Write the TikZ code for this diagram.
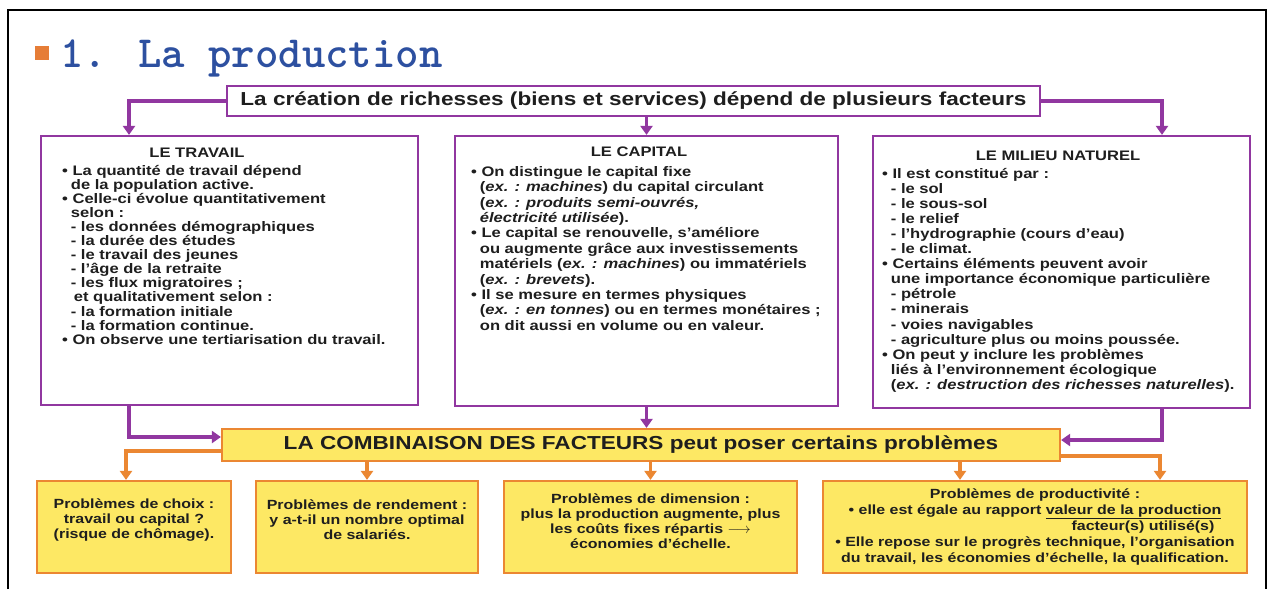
\documentclass[tikz,border=0pt]{standalone}
\usepackage{fontspec}
\setsansfont{Liberation Sans}[FakeStretch=1.2]
\usetikzlibrary{arrows.meta}

\definecolor{violetline}{RGB}{145,55,160}
\definecolor{orangeline}{RGB}{235,135,50}
\definecolor{yellowfill}{RGB}{253,232,100}
\definecolor{titleblue}{RGB}{45,80,160}
\definecolor{squareorange}{RGB}{230,125,55}
\definecolor{inkcol}{RGB}{30,30,30}

\newcommand{\indt}{\hspace*{0.63em}}

\begin{document}
\begin{tikzpicture}[x=1pt, y=-1pt,
  pbox/.style={draw=violetline, line width=2.2pt, fill=white, inner sep=0pt},
  ybox/.style={draw=orangeline, line width=2.2pt, fill=yellowfill, inner sep=0pt},
  head/.style={font=\sffamily\bfseries\fontsize{13.8}{14.1}\selectfont, text=inkcol, inner sep=0pt},
  body/.style={font=\sffamily\bfseries\fontsize{13.8}{14.1}\selectfont, text=inkcol, align=left, inner sep=0pt},
  big/.style={font=\sffamily\bfseries\fontsize{18.8}{22}\selectfont, text=inkcol},
  small/.style={font=\sffamily\bfseries\fontsize{13.3}{15}\selectfont, text=inkcol, align=center, inner sep=0pt},
  parrow/.style={draw=violetline, line width=3.4pt, -{Triangle[width=12pt,length=9pt]}},
  oarrow/.style={draw=orangeline, line width=3.4pt, -{Triangle[width=12pt,length=9pt]}}]

\useasboundingbox (0,0) rectangle (1268,589);
\draw[black, line width=2.5pt] (8,589) -- (8,10) -- (1266,10) -- (1266,589);

\fill[squareorange] (35,46) rectangle (49,60);
\node[anchor=base west, inner sep=0pt, text=titleblue, font=\ttfamily\bfseries\fontsize{44.6}{44.6}\selectfont] (titre) at (60,67) {1. La production};

\node[pbox, big, minimum width=813pt, minimum height=30pt] (crea) at (633.5,101) {La création de richesses (biens et services) dépend de plusieurs facteurs};

\node[pbox, minimum width=377pt, minimum height=269pt] (travail) at (229.5,270.5) {};
\node[pbox, minimum width=383pt, minimum height=270pt] (capital) at (646.5,271) {};
\node[pbox, minimum width=377pt, minimum height=272pt] (milieu) at (1061.5,272) {};

\node[head, anchor=base] (travailhd) at (197,157) {LE TRAVAIL};
\node[body, anchor=north west] (travailtxt) at (62,164.7) {%
• La quantité de travail dépend\\
\indt de la population active.\\
• Celle-ci évolue quantitativement\\
\indt selon :\\
\indt - les données démographiques\\
\indt - la durée des études\\
\indt - le travail des jeunes\\
\indt - l'âge de la retraite\\
\indt - les flux migratoires ;\\
\indt\hspace*{3pt}et qualitativement selon :\\
\indt - la formation initiale\\
\indt - la formation continue.\\
• On observe une tertiarisation du travail.};

\node[head, anchor=base] (capitalhd) at (639,156) {LE CAPITAL};
\node[body, anchor=north west, font=\sffamily\bfseries\fontsize{13.8}{15.4}\selectfont] (capitaltxt) at (471,166) {%
• On distingue le capital fixe\\
\indt(\textit{ex. : machines}) du capital circulant\\
\indt(\textit{ex. : produits semi-ouvrés,}\\
\indt\textit{électricité utilisée}).\\
• Le capital se renouvelle, s'améliore\\
\indt ou augmente grâce aux investissements\\
\indt matériels (\textit{ex. : machines}) ou immatériels\\
\indt(\textit{ex. : brevets}).\\
• Il se mesure en termes physiques\\
\indt(\textit{ex. : en tonnes}) ou en termes monétaires ;\\
\indt on dit aussi en volume ou en valeur.};

\node[head, anchor=base] (milieuhd) at (1058,160) {LE MILIEU NATUREL};
\node[body, anchor=north west, font=\sffamily\bfseries\fontsize{13.8}{15.1}\selectfont] (milieutxt) at (882,167.7) {%
• Il est constitué par :\\
\indt - le sol\\
\indt - le sous-sol\\
\indt - le relief\\
\indt - l'hydrographie (cours d'eau)\\
\indt - le climat.\\
• Certains éléments peuvent avoir\\
\indt une importance économique particulière\\
\indt - pétrole\\
\indt - minerais\\
\indt - voies navigables\\
\indt - agriculture plus ou moins poussée.\\
• On peut y inclure les problèmes\\
\indt liés à l'environnement écologique\\
\indt(\textit{ex. : destruction des richesses naturelles}).};

\node[ybox, big, minimum width=838pt, minimum height=32pt] (combi) at (641,445) {LA COMBINAISON DES FACTEURS peut poser certains problèmes};

\node[ybox, minimum width=194pt, minimum height=92pt] (choix) at (134,527) {};
\node[ybox, minimum width=222pt, minimum height=92pt] (rendement) at (367,527) {};
\node[ybox, minimum width=293pt, minimum height=92pt] (dimension) at (650.5,527) {};
\node[ybox, minimum width=424pt, minimum height=92pt] (productivite) at (1035,527) {};

\node[small] (choixtxt) at ([yshift=7pt]choix.center) {Problèmes de choix :\\ travail ou capital ?\\ (risque de chômage).};
\node[small] (rendementtxt) at ([yshift=7pt]rendement.center) {Problèmes de rendement :\\ y a-t-il un nombre optimal\\ de salariés.};
\node[small] (dimensiontxt) at ([yshift=6pt]dimension.center) {Problèmes de dimension :\\ plus la production augmente, plus\\ les coûts fixes répartis $\longrightarrow$\\ économies d'échelle.};
\node[small, font=\sffamily\bfseries\fontsize{13.3}{16}\selectfont] (productivitetxt) at (productivite.center) {Problèmes de productivité :\\
• elle est égale au rapport \underline{valeur de la production}\\
\hspace*{216pt}facteur(s) utilisé(s)\\
• Elle repose sur le progrès technique, l'organisation\\
du travail, les économies d'échelle, la qualification.};

\draw[parrow] (crea.west) -| ([xshift=-100.5pt]travail.north);
\draw[parrow] (capital.north |- crea.south) -- (capital.north);
\draw[parrow] (crea.east) -| ([xshift=100.5pt]milieu.north);

\draw[parrow] ([xshift=-100.5pt]travail.south) |- ([yshift=8pt]combi.west);
\draw[parrow] (capital.south) -- (capital.south |- combi.north);
\draw[parrow] ([xshift=100.5pt]milieu.south) |- ([yshift=5pt]combi.east);

\draw[oarrow] ([yshift=-6pt]combi.west) -| ([xshift=-8pt]choix.north);
\draw[oarrow] (rendement.north |- combi.south) -- (rendement.north);
\draw[oarrow] (dimension.north |- combi.south) -- (dimension.north);
\draw[oarrow] ([xshift=-75pt]productivite.north |- combi.south) -- ([xshift=-75pt]productivite.north);
\draw[oarrow] ([yshift=-11pt]combi.east) -| ([xshift=125pt]productivite.north);

\end{tikzpicture}
\end{document}
